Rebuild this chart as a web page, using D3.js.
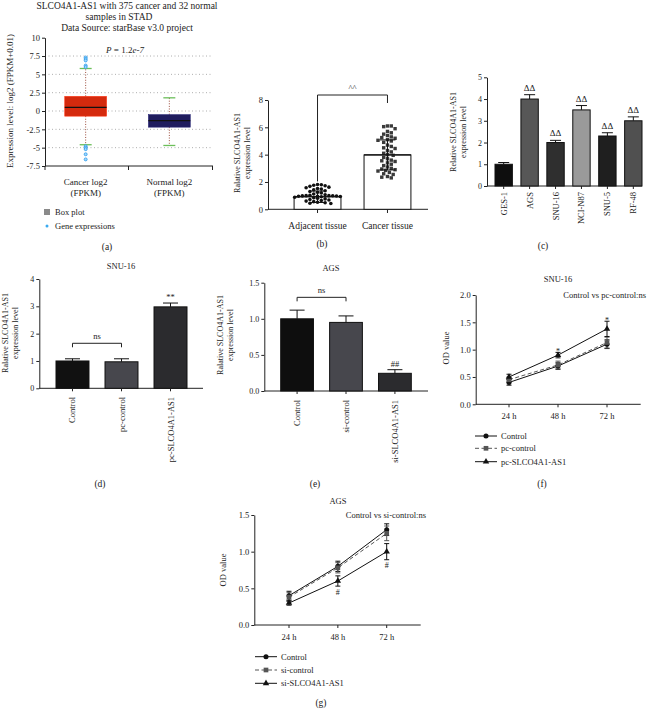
<!DOCTYPE html>
<html><head><meta charset="utf-8">
<script src="https://cdn.jsdelivr.net/npm/d3@7"></script>
<style>
body{margin:0;background:#fff}
svg text{font-family:'Liberation Serif','DejaVu Serif',serif;fill:#222}
</style></head>
<body><svg id="c" width="648" height="710"></svg>
<script>
// ---------- DATA ----------
// (a) boxplot
const aCats = ["Cancer log2", "Normal log2"];
const aQ1 = [-0.7, -2.2];
const aMed = [0.5, -1.3];
const aQ3 = [2.0, -0.5];
const aLo = [-4.6, -4.7];
const aHi = [5.8, 1.8];
const aOutliers = [7.3, 7.1, 6.9, 6.2, 6.0, -4.8, -5.0, -5.2, -5.9, -6.6];
const aTicks = [-7.5, -5, -2.5, 0, 2.5, 5, 7.5, 10];
// (b) scatter + bar
const bCats = ["Adjacent tissue", "Cancer tissue"];
const bMeans = [0.92, 3.98];
const bSD = [0.42, 1.1];
const bAdjacent = [1.82,1.80,1.76,1.72,1.68,1.62,1.58,1.52,1.48,1.42,1.36,1.30,1.24,1.20,1.12,1.06,1.02,1.00,1.00,0.99,0.98,0.97,0.96,0.95,0.94,0.92,0.88,0.84,0.80,0.76,0.72,0.68,0.64,0.60,0.56,0.52,0.48,0.44,0.42];
const bCancer = [6.1,6.1,6.05,5.9,5.7,5.6,5.5,5.4,5.3,5.25,5.2,5.1,5.05,5.0,4.9,4.7,4.6,4.5,4.45,4.3,4.2,4.1,4.0,3.95,3.8,3.7,3.6,3.55,3.5,3.4,3.3,3.2,3.1,3.0,2.95,2.9,2.85,2.8,2.7,2.6,2.55,2.4,2.35,2.3];
const bTicks = [0, 2, 4, 6, 8];
// (c)
const cCats = ["GES-1", "AGS", "SNU-16", "NCI-N87", "SNU-5", "RF-48"];
const cVals = [1.0, 4.0, 2.0, 3.5, 2.3, 3.0];
const cErrs = [0.08, 0.2, 0.1, 0.2, 0.15, 0.18];
const cSig = ["", "ΔΔ", "ΔΔ", "ΔΔ", "ΔΔ", "ΔΔ"];
const cTicks = [0, 1, 2, 3, 4, 5];
// (d)
const dCats = ["Control", "pc-control", "pc-SLCO4A1-AS1"];
const dVals = [1.0, 0.97, 2.98];
const dErrs = [0.08, 0.11, 0.14];
const dSig = ["", "", "**"];
const dTicks = [0, 1, 2, 3, 4];
// (e)
const eCats = ["Control", "si-control", "si-SLCO4A1-AS1"];
const eVals = [1.0, 0.95, 0.245];
const eErrs = [0.12, 0.09, 0.05];
const eSig = ["", "", "##"];
const eTicks = [0, 0.5, 1.0, 1.5];
// (f)
const times = ["24 h", "48 h", "72 h"];
const fNames = ["Control", "pc-control", "pc-SLCO4A1-AS1"];
const fControl = [0.40, 0.70, 1.10];
const fPcControl = [0.45, 0.72, 1.13];
const fPcSLCO = [0.50, 0.90, 1.38];
const fErrControl = [0.05, 0.06, 0.08];
const fErrPcControl = [0.05, 0.07, 0.10];
const fErrPcSLCO = [0.05, 0.05, 0.14];
const fSig = ["", "*", "*"];
const fTicks = [0, 0.5, 1.0, 1.5, 2.0];
// (g)
const gNames = ["Control", "si-control", "si-SLCO4A1-AS1"];
const gControl = [0.40, 0.80, 1.30];
const gSiControl = [0.38, 0.78, 1.25];
const gSiSLCO = [0.30, 0.60, 1.00];
const gErrControl = [0.06, 0.07, 0.08];
const gErrSiControl = [0.06, 0.07, 0.10];
const gErrSiSLCO = [0.03, 0.07, 0.11];
const gSig = ["", "#", "#"];
const gTicks = [0, 0.5, 1.0, 1.5];

// ---------- HELPERS ----------
const svg = d3.select("#c");
const INK = "#222";
function addText(x, y, s, size, anchor = "middle") {
  return svg.append("text").attr("x", x).attr("y", y).attr("text-anchor", anchor)
    .style("font-size", size + "px").text(s);
}
function rotText(x, y, s, size, anchor = "middle") {
  return svg.append("text").attr("transform", `translate(${x},${y}) rotate(-90)`)
    .attr("text-anchor", anchor).attr("dominant-baseline", "central")
    .style("font-size", size + "px").text(s);
}
function line(x1, y1, x2, y2, color = INK, w = 1, dash = null) {
  const l = svg.append("line").attr("x1", x1).attr("y1", y1).attr("x2", x2).attr("y2", y2)
    .attr("stroke", color).attr("stroke-width", w);
  if (dash) l.attr("stroke-dasharray", dash);
  return l;
}
function yAxis(scale, x, ticks, fmt, size) {
  const g = svg.append("g").attr("transform", `translate(${x},0)`)
    .call(d3.axisLeft(scale).tickValues(ticks).tickFormat(fmt).tickSize(3).tickPadding(2).tickSizeOuter(0));
  g.selectAll("path,line").attr("stroke", INK);
  g.selectAll("text").style("font-size", size + "px").attr("fill", INK);
  return g;
}

// ---------- (a) ----------
(function () {
  addText(127, 9, "SLCO4A1-AS1 with 375 cancer and 32 normal", 9.5);
  addText(119, 19.5, "samples in STAD", 9.5);
  addText(127, 30.5, "Data Source: starBase v3.0 project", 9.5);
  const y = d3.scaleLinear().domain([-7.5, 10]).range([166, 37.7]);
  const x = d3.scaleBand().domain(aCats).range([43, 212]).paddingInner(0.5).paddingOuter(0.26);
  [-5, -2.5, 0, 2.5, 5, 7.5].forEach(v => line(45, y(v), 213, y(v), "#999", 0.8, "1,2.5"));
  yAxis(y, 45, aTicks, d => String(d), 8.5);
  line(45, 166, 213, 166);
  [45, 128.5, 212.5].forEach(t => line(t, 166, t, 170));
  const boxColors = ["#d42a0e", "#1f1c5e"];
  aCats.forEach((c, i) => {
    const cx = x(c) + x.bandwidth() / 2, bw = x.bandwidth();
    line(cx, y(aQ3[i]), cx, y(aHi[i]), "#9a4a3a", 1, "1,1.6");
    line(cx, y(aQ1[i]), cx, y(aLo[i]), "#9a4a3a", 1, "1,1.6");
    line(cx - 6, y(aHi[i]), cx + 6, y(aHi[i]), "#6cbf5a", 1.3);
    line(cx - 6, y(aLo[i]), cx + 6, y(aLo[i]), "#6cbf5a", 1.3);
    svg.append("rect").attr("x", cx - bw / 2).attr("y", y(aQ3[i])).attr("width", bw)
      .attr("height", y(aQ1[i]) - y(aQ3[i])).attr("fill", boxColors[i])
      .attr("stroke", d3.color(boxColors[i]).brighter(0.6)).attr("stroke-width", 0.6);
    line(cx - bw / 2, y(aMed[i]), cx + bw / 2, y(aMed[i]), "#111", 1.3);
    if (i === 0) {
      aOutliers.forEach(v => svg.append("circle").attr("cx", cx).attr("cy", y(v)).attr("r", 1.5)
        .attr("fill", "#9fd8ff").attr("stroke", "#2f9be8").attr("stroke-width", 0.8));
    }
    addText(cx, 185, c, 9);
    addText(cx, 196, "(FPKM)", 9);
  });
  const p = addText(125, 53, "", 9);
  p.append("tspan").style("font-style", "italic").text("P");
  p.append("tspan").text(" = 1.2");
  p.append("tspan").style("font-style", "italic").text("e-7");
  rotText(10, 101, "Expression level: log2 (FPKM+0.01)", 9);
  svg.append("rect").attr("x", 44).attr("y", 209).attr("width", 6).attr("height", 6).attr("fill", "#8a8a8a");
  addText(55, 215, "Box plot", 8.5, "start");
  svg.append("circle").attr("cx", 47).attr("cy", 226).attr("r", 1.5).attr("fill", "#3aaaf0");
  addText(55, 229, "Gene expressions", 8.5, "start");
  addText(107, 250, "(a)", 9.5);
})();

// ---------- (b) ----------
function beeswarm(values, yScale, cx, d, maxHalf) {
  const pts = values.map(v => ({ v, y: yScale(v) })).sort((a, b) => a.y - b.y);
  const placed = [];
  pts.forEach(p => {
    let best = null;
    for (let k = 0; k < 80; k++) {
      const off = k === 0 ? 0 : (k % 2 ? 1 : -1) * Math.ceil(k / 2) * (d * 0.5);
      if (Math.abs(off) > maxHalf) continue;
      const xx = cx + off;
      if (placed.every(q => (q.x - xx) ** 2 + (q.y - p.y) ** 2 >= d * d)) { best = xx; break; }
    }
    p.x = best === null ? cx : best;
    placed.push(p);
  });
  return placed;
}
(function () {
  const y = d3.scaleLinear().domain([0, 8]).range([209.3, 100]);
  const x = d3.scaleBand().domain(bCats).range([271, 434]).paddingInner(0.33).paddingOuter(0.33);
  yAxis(y, 268, bTicks, d => String(d), 8.5);
  line(268, 209.3, 428, 209.3);
  const sets = [bAdjacent, bCancer];
  bCats.forEach((c, i) => {
    const cx = x(c) + x.bandwidth() / 2;
    svg.append("rect").attr("x", x(c)).attr("y", y(bMeans[i])).attr("width", x.bandwidth())
      .attr("height", y(0) - y(bMeans[i])).attr("fill", "#fff").attr("stroke", "#111").attr("stroke-width", 1);
    line(cx, 209.3, cx, 213);
    const pts = beeswarm(sets[i], y, cx, 3.8, 24);
    pts.forEach(pt => {
      if (i === 0) svg.append("circle").attr("cx", pt.x).attr("cy", pt.y).attr("r", 1.8).attr("fill", "#111");
      else svg.append("rect").attr("x", pt.x - 1.7).attr("y", pt.y - 1.7).attr("width", 3.4).attr("height", 3.4).attr("fill", "#3a3a3a");
    });
    const top = y(bMeans[i] + bSD[i]), bot = y(bMeans[i] - bSD[i]);
    line(cx, top, cx, bot, "#111", 1);
    line(cx - 8, top, cx + 8, top, "#111", 1);
    line(cx - 8, bot, cx + 8, bot, "#111", 1);
    line(cx - x.bandwidth() / 2, y(bMeans[i]), cx + x.bandwidth() / 2, y(bMeans[i]), "#111", 1.2);
    addText(cx, 229, c, 9.5);
  });
  const c0 = x(bCats[0]) + x.bandwidth() / 2, c1 = x(bCats[1]) + x.bandwidth() / 2;
  line(c0, 95, c1, 95);
  line(c0, 95, c0, y(d3.max(bAdjacent)) - 3);
  line(c1, 95, c1, 103);
  addText((c0 + c1) / 2, 91, "^^", 8.5);
  rotText(237, 153, "Ralative SLCO4A1-AS1", 8);
  rotText(247, 153, "expression level", 8);
  addText(322, 247, "(b)", 9.5);
})();

// ---------- bar panels ----------
function barPanel(o) {
  const y = d3.scaleLinear().domain(o.yDomain).range(o.yRange);
  const x = d3.scaleBand().domain(o.cats).range(o.bandRange).paddingInner(o.pad).paddingOuter(0);
  yAxis(y, o.axisX, o.ticks, o.fmt, 8);
  const y0 = o.yRange[0];
  line(o.axisX, y0, o.axisEnd, y0);
  o.cats.forEach((c, i) => {
    const bx = x(c), bw = x.bandwidth(), cx = bx + bw / 2;
    const ey = y(o.vals[i] + o.errs[i]);
    line(cx, y(o.vals[i]), cx, ey, "#111", 1);
    line(cx - o.capW / 2, ey, cx + o.capW / 2, ey, "#111", 1);
    svg.append("rect").attr("x", bx).attr("y", y(o.vals[i])).attr("width", bw)
      .attr("height", y0 - y(o.vals[i])).attr("fill", o.colors[i]).attr("stroke", "#111").attr("stroke-width", 1);
    line(cx, y0, cx, y0 + 3);
    if (o.sig[i]) addText(cx, ey - o.sigGap, o.sig[i], o.sigSize);
    rotText(cx, o.labelEndY, c, 8.5, "end");
  });
  if (o.bracket) {
    const a = x(o.cats[0]) + x.bandwidth() / 2, b = x(o.cats[1]) + x.bandwidth() / 2;
    const top = Math.min(y(o.vals[0] + o.errs[0]), y(o.vals[1] + o.errs[1])) - o.bracket;
    line(a, top, b, top); line(a, top, a, top + 4); line(b, top, b, top + 4);
    addText((a + b) / 2, top - 4, "ns", 8.5);
  }
  if (o.title) addText(o.title[0], o.title[1], o.title[2], 8.5);
  rotText(o.ylabX, o.ylabY, o.ylab1, 8);
  rotText(o.ylabX + 10, o.ylabY, "expression level", 8);
  addText(o.letter[0], o.letter[1], o.letter[2], 9.5);
}

barPanel({
  cats: cCats, vals: cVals, errs: cErrs, sig: cSig,
  colors: ["#0e0e0e", "#575757", "#2f2f2f", "#9a9a9a", "#1f1f1f", "#505050"],
  yDomain: [0, 5], yRange: [186, 77.3], bandRange: [495, 642], pad: 0.33,
  axisX: 487, axisEnd: 642, ticks: cTicks, fmt: d => String(d), capW: 11,
  sigGap: 4, sigSize: 9, labelEndY: 192,
  ylabX: 453, ylabY: 132, ylab1: "Relative SLCO4A1-AS1", letter: [543, 249, "(c)"]
});
barPanel({
  cats: dCats, vals: dVals, errs: dErrs, sig: dSig,
  colors: ["#111111", "#47474d", "#2b2b2e"],
  yDomain: [0, 4], yRange: [388.3, 279], bandRange: [56, 187], pad: 0.327,
  axisX: 39.3, axisEnd: 203, ticks: dTicks, fmt: d => String(d), capW: 15,
  sigGap: 3, sigSize: 8.5, labelEndY: 397, bracket: 15.5,
  title: [121, 269, "SNU-16"],
  ylabX: 5, ylabY: 333, ylab1: "Ralative SLCO4A1-AS1", letter: [100, 487, "(d)"]
});
barPanel({
  cats: eCats, vals: eVals, errs: eErrs, sig: eSig,
  colors: ["#0e0e0e", "#47474d", "#2b2b2e"],
  yDomain: [0, 1.5], yRange: [391, 282.7], bandRange: [280.7, 411.3], pad: 0.33,
  axisX: 264.3, axisEnd: 428, ticks: eTicks, fmt: d3.format(".1f"), capW: 15,
  sigGap: 3, sigSize: 8.5, labelEndY: 400, bracket: 12.8,
  title: [331, 271, "AGS"],
  ylabX: 220, ylabY: 335, ylab1: "Ralative SLCO4A1-AS1", letter: [315, 487, "(e)"]
});

// ---------- line panels ----------
function linePanel(o) {
  const y = d3.scaleLinear().domain(o.yDomain).range(o.yRange);
  const x = d3.scalePoint().domain(times).range(o.xRange);
  const y0 = o.yRange[0];
  yAxis(y, o.axisX, o.ticks, d3.format(".1f"), 8.5);
  line(o.axisX, y0, o.axisEnd, y0);
  times.forEach(t => { line(x(t), y0, x(t), y0 + 3); addText(x(t), y0 + 15, t, 8.5); });
  const styles = [
    { sym: d3.symbolCircle, size: 20, color: "#111", dash: null },
    { sym: d3.symbolSquare, size: 22, color: "#555", dash: "4,2.5" },
    { sym: d3.symbolTriangle, size: 18, color: "#111", dash: null }
  ];
  const gen = d3.line().x((d, i) => x(times[i])).y(d => y(d));
  o.series.forEach((s, k) => {
    const st = styles[k];
    const p = svg.append("path").attr("d", gen(s.vals)).attr("fill", "none")
      .attr("stroke", st.color).attr("stroke-width", 1);
    if (st.dash) p.attr("stroke-dasharray", st.dash);
  });
  o.series.forEach((s, k) => {
    const st = styles[k];
    s.vals.forEach((v, i) => {
      const cx = x(times[i]), t = y(v + s.errs[i]), b = y(v - s.errs[i]);
      line(cx, t, cx, b, st.color, 1);
      line(cx - 2.5, t, cx + 2.5, t, st.color, 1);
      line(cx - 2.5, b, cx + 2.5, b, st.color, 1);
    });
  });
  o.series.forEach((s, k) => {
    const st = styles[k];
    s.vals.forEach((v, i) => {
      svg.append("path").attr("d", d3.symbol().type(st.sym).size(st.size)())
        .attr("transform", `translate(${x(times[i])},${y(v)})`).attr("fill", st.color);
    });
  });
  const last = o.series[2];
  o.sig.forEach((s, i) => {
    if (!s) return;
    const v = last.vals[i], e = last.errs[i];
    if (o.sigBelow) addText(x(times[i]), y(v - e) + 8.5, s, 8);
    else addText(x(times[i]), y(v + e) + 1.5, s, 8);
  });
  addText(o.title[0], o.title[1], o.title[2], 8.5);
  addText(o.note[0], o.note[1], o.note[2], 8.5, "end");
  rotText(o.ylabX, o.ylabY, "OD value", 8.5);
  o.names.forEach((n, k) => {
    const st = styles[k], ly = o.legY[k];
    const l = line(o.legX, ly, o.legX + 22, ly, st.color, 1);
    if (st.dash) l.attr("stroke-dasharray", "4,2.5");
    svg.append("path").attr("d", d3.symbol().type(st.sym).size(st.size)())
      .attr("transform", `translate(${o.legX + 11},${ly})`).attr("fill", st.color);
    addText(o.legX + 26, ly + 3, n, 8.5, "start");
  });
  addText(o.letter[0], o.letter[1], o.letter[2], 9.5);
}

linePanel({
  yDomain: [0, 2], yRange: [404.3, 295], xRange: [509, 607], axisX: 475.7, axisEnd: 640.7,
  ticks: fTicks, names: fNames,
  series: [{ vals: fControl, errs: fErrControl }, { vals: fPcControl, errs: fErrPcControl }, { vals: fPcSLCO, errs: fErrPcSLCO }],
  sig: fSig, sigBelow: false,
  title: [558, 282, "SNU-16"], note: [646, 298, "Control vs pc-control:ns"],
  ylabX: 446, ylabY: 348, legX: 475, legY: [436, 448.3, 461.7], letter: [542, 487, "(f)"]
});
linePanel({
  yDomain: [0, 1.5], yRange: [625, 515], xRange: [289, 386.7], axisX: 254.3, axisEnd: 420.7,
  ticks: gTicks, names: gNames,
  series: [{ vals: gControl, errs: gErrControl }, { vals: gSiControl, errs: gErrSiControl }, { vals: gSiSLCO, errs: gErrSiSLCO }],
  sig: gSig, sigBelow: true,
  title: [338, 504, "AGS"], note: [426, 518, "Control vs si-control:ns"],
  ylabX: 223, ylabY: 570, legX: 255, legY: [656.7, 670, 683.3], letter: [321, 706, "(g)"]
});
</script></body></html>
